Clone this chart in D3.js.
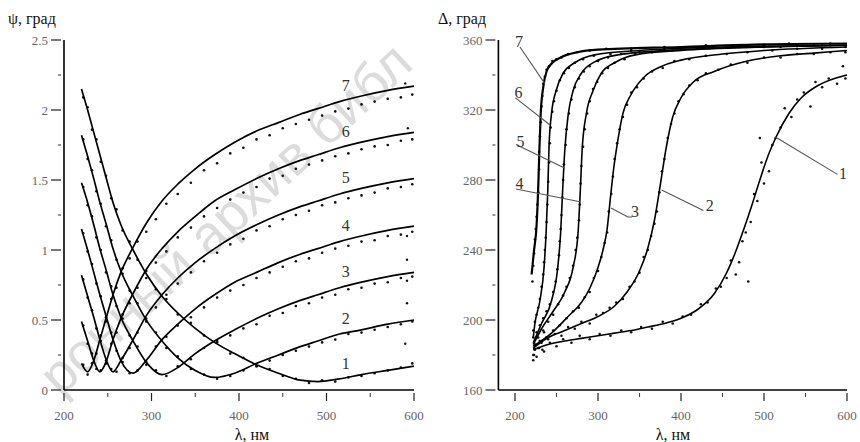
<!DOCTYPE html>
<html><head><meta charset="utf-8">
<script src="https://cdn.jsdelivr.net/npm/d3@7"></script>
<style>body{margin:0;background:#fff}svg{display:block}</style>
</head><body>
<svg id="c" width="860" height="442"></svg>
<script>
// ---------- data: left panel (psi) ----------
const curveNames = ["1","2","3","4","5","6","7"];
const lamL = [220,227,234,241,248,256,265,279,295,312,330,350,372,395,420,445,470,490,515,540,570,600];
const psi1 = [2.15,2.00,1.84,1.68,1.52,1.34,1.18,1.00,0.82,0.67,0.55,0.44,0.34,0.26,0.18,0.12,0.07,0.06,0.08,0.11,0.14,0.17];
const psi2 = [1.82,1.67,1.51,1.34,1.19,1.01,0.85,0.67,0.49,0.35,0.23,0.14,0.09,0.12,0.19,0.25,0.31,0.35,0.40,0.43,0.47,0.50];
const psi3 = [1.48,1.34,1.18,1.01,0.86,0.68,0.52,0.35,0.19,0.11,0.16,0.26,0.35,0.43,0.51,0.58,0.64,0.68,0.73,0.77,0.81,0.84];
const psi4 = [1.15,1.00,0.84,0.68,0.53,0.36,0.21,0.12,0.22,0.36,0.47,0.58,0.68,0.77,0.84,0.91,0.97,1.01,1.06,1.10,1.14,1.17];
const psi5 = [0.82,0.67,0.52,0.36,0.22,0.13,0.21,0.36,0.54,0.68,0.80,0.91,1.01,1.10,1.18,1.25,1.31,1.35,1.40,1.44,1.48,1.51];
const psi6 = [0.49,0.35,0.21,0.13,0.20,0.36,0.51,0.69,0.87,1.01,1.13,1.24,1.35,1.43,1.51,1.58,1.64,1.68,1.73,1.77,1.81,1.84];
const psi7 = [0.19,0.13,0.21,0.36,0.51,0.68,0.84,1.02,1.20,1.35,1.47,1.58,1.68,1.77,1.85,1.91,1.97,2.01,2.06,2.10,2.14,2.17];

// measured points (left)
const lamD = [222,227,232,237,242,248,254,260,267,275,284,294,305,317,330,345,360,375,390,405,420,435,450,465,480,495,510,525,540,555,570,585,598];
const psiD1 = [2.09,2.02,1.86,1.79,1.63,1.53,1.37,1.29,1.14,1.06,0.93,0.85,0.72,0.65,0.54,0.48,0.39,0.34,0.26,0.23,0.17,0.15,0.10,0.08,0.05,0.07,0.06,0.09,0.10,0.12,0.14,0.16,0.19];
const psiD2 = [1.79,1.65,1.57,1.42,1.33,1.17,1.07,0.93,0.83,0.71,0.62,0.49,0.41,0.30,0.24,0.15,0.11,0.08,0.10,0.14,0.17,0.21,0.25,0.28,0.31,0.34,0.36,0.40,0.41,0.43,0.45,0.47,0.49];
const psiD3 = [1.45,1.32,1.24,1.09,1.00,0.84,0.74,0.60,0.51,0.39,0.31,0.18,0.14,0.10,0.17,0.22,0.30,0.35,0.39,0.44,0.47,0.53,0.55,0.60,0.62,0.66,0.68,0.72,0.73,0.76,0.77,0.80,0.81];
const psiD4 = [1.12,0.99,0.90,0.76,0.67,0.52,0.41,0.28,0.20,0.12,0.14,0.20,0.31,0.38,0.46,0.52,0.59,0.66,0.71,0.75,0.80,0.84,0.88,0.92,0.94,0.98,1.01,1.03,1.06,1.07,1.10,1.11,1.13];
const psiD5 = [0.79,0.66,0.57,0.44,0.35,0.21,0.15,0.13,0.23,0.30,0.41,0.51,0.59,0.68,0.76,0.84,0.92,0.98,1.04,1.08,1.14,1.17,1.22,1.25,1.28,1.32,1.34,1.37,1.39,1.41,1.44,1.45,1.47];
const psiD6 = [0.46,0.33,0.26,0.15,0.14,0.19,0.33,0.41,0.54,0.62,0.73,0.80,0.91,0.99,1.09,1.16,1.24,1.30,1.36,1.41,1.45,1.51,1.53,1.58,1.61,1.64,1.67,1.69,1.72,1.74,1.75,1.78,1.79];
const psiD7 = [0.18,0.11,0.19,0.26,0.39,0.49,0.65,0.73,0.87,0.94,1.06,1.13,1.22,1.33,1.40,1.48,1.57,1.62,1.69,1.73,1.79,1.82,1.87,1.90,1.93,1.96,1.99,2.01,2.04,2.06,2.08,2.09,2.11];
const psiOut = [[590,2.19],[593,1.87],[592,1.10],[592,0.93],[592,0.78],[592,0.62],[590,0.33]];

// ---------- data: right panel (Delta) ----------
const delta1 = [[222,183],[240,186],[260,188],[280,189.5],[300,191],[320,192.5],[340,194],[360,196],[380,198],[400,201],[420,206],[440,215],[455,227],[465,238],[475,251],[485,265],[495,280],[505,294],[515,305],[530,318],[545,327],[565,334],[585,338],[600,340]];
const delta2 = [[222,184],[240,190],[260,194],[280,198],[300,202],[320,208],[335,216],[350,228],[360,241],[368,257],[375,277],[382,298],[390,316],[400,327],[415,336],[440,342],[480,348],[520,351],[560,352.5],[600,354]];
const delta3 = [[222,185],[244,192.5],[264,202],[280,210],[290,218],[300,230],[306,240],[311,252],[315,270],[319,287],[323,300],[330,318],[340,329],[356,339],[377,345],[400,348.5],[450,352],[500,354],[600,356]];
const delta4 = [[222,186],[232,195],[246,205],[260,216],[270,230],[276,250],[278.5,272],[281,298],[286,318],[294,331],[304,341],[320,347],[345,351.5],[400,354],[500,356],[600,357]];
const delta5 = [[222,187],[232,198],[244,211],[251.5,230],[255,250],[257,270],[260,297],[264,317],[270,331],[280,341],[296,347.5],[324,351.5],[400,354.5],[500,356],[600,357]];
const delta6 = [[222,190],[224,198],[230,211],[235,230],[237.5,250],[239.5,274],[241,299],[244,318],[249.5,331],[258,341],[272,347],[296,351.5],[350,354],[450,356],[600,357]];
const delta7 = [[220,226],[223,240],[226,254],[228,276],[229.5,299],[231,318],[234,333],[238,342],[245,347],[255,350],[275,353],[300,354.5],[400,356],[500,357.5],[600,358]];

const deltaD1 = [[222,177],[224,186],[226,179],[230,188],[233,183],[238,190],[223,180],[228,184],[235,182],[242,187],[250,185],[258,189],[268,187],[278,191],[290,189],[302,192],[315,191],[328,194],[340,193],[352,196],[365,195],[378,199],[390,198],[402,202],[412,203],[424,209],[432,210],[442,218],[448,219],[455,224],[460,234],[466,226],[470,233],[474,245],[478,250],[481,222],[484,256],[488,272],[492,268],[495,304],[497,290],[500,278],[506,285],[510,300],[514,304],[520,310],[525,321],[533,316],[540,326],[548,330],[556,322],[562,336],[570,333],[578,338],[588,335],[595,345],[598,338]];
const deltaD2 = [[222,180],[226,190],[229,184],[235,193],[224,183],[232,187],[240,189],[248,192],[256,191],[264,196],[272,195],[280,199],[290,198],[298,203],[306,204],[314,207],[322,210],[330,212],[338,219],[344,222],[350,227],[355,236],[360,240],[364,248],[368,255],[371,262],[374,273],[377,285],[380,292],[384,304],[388,312],[392,318],[397,325],[403,329],[410,334],[420,337],[430,341],[445,343],[460,346],[480,347],[500,350],[520,350],[540,352],[560,352],[580,353],[598,353]];
const deltaD3 = [[223,184],[230,188],[238,190],[246,194],[254,197],[262,201],[270,205],[277,207],[284,213],[290,216],[295,224],[300,228],[304,236],[308,244],[311,250],[313,262],[316,272],[318,282],[320,292],[323,301],[326,309],[330,316],[335,323],[340,330],[347,333],[355,338],[365,342],[378,344],[392,348],[410,349],[430,351],[455,352],[480,353],[510,354],[540,355],[570,355],[598,356]];
const deltaD4 = [[223,187],[228,190],[234,194],[240,199],[246,203],[252,209],[258,214],[262,219],[266,224],[270,231],[273,240],[275,247],[277,257],[278,266],[279,278],[280,288],[282,299],[284,309],[287,318],[290,325],[294,332],[299,336],[305,341],[312,344],[320,347],[332,349],[345,352],[365,353],[390,354],[420,355],[460,356],[500,356],[540,357],[580,357]];
const deltaD5 = [[222,190],[226,193],[230,197],[234,201],[238,205],[242,209],[246,216],[249,222],[251,229],[253,237],[254,245],[255,252],[256,260],[257,270],[258,280],[259,289],[261,300],[262,309],[265,318],[268,326],[272,333],[277,338],[283,342],[290,345],[300,348],[312,350],[328,352],[350,353],[380,354],[420,355],[470,356],[520,356],[570,357]];
const deltaD6 = [[222,194],[224,199],[226,203],[228,207],[230,212],[232,219],[234,226],[235,233],[236,240],[237,247],[238,256],[239,266],[240,279],[241,290],[242,301],[243,310],[245,319],[247,325],[250,331],[254,337],[259,341],[265,344],[272,347],[282,349],[295,351],[315,352],[340,354],[380,355],[430,356],[500,357],[560,357]];
const deltaD7 = [[221,222],[222,231],[223,238],[224,246],[225,252],[226,259],[227,266],[228,273],[229,286],[229,296],[230,305],[231,313],[232,322],[233,328],[234,335],[236,339],[238,343],[241,345],[245,348],[250,349],[256,350],[264,352],[275,353],[290,354],[310,355],[340,355],[380,356],[430,357],[480,357],[530,358],[580,358]];

// ticks
const xMajor = [200,300,400,500,600];
const xMinor = [250,350,450,550];
const psiMajor = [0,0.5,1,1.5,2,2.5];
const psiMinor = [0.25,0.75,1.25,1.75,2.25];
const deltaMajor = [160,200,240,280,320,360];
const deltaMinor = [180,220,260,300,340];

// annotations of the right panel (data coordinates)
const rightNotes = [
  {t:"7", at:[204.8,359.4], lead:[[206,356],[236.1,334.9]]},
  {t:"6", at:[204.2,330],   lead:[[200.5,326.9],[242.2,311.4]]},
  {t:"5", at:[206.6,302.3], lead:[[201.2,300.3],[260.2,286.7]]},
  {t:"4", at:[205.4,278],   lead:[[201.2,274.9],[278.3,267.6]]},
  {t:"3", at:[344.5,262.3], lead:[[315.7,264],[336,258.9],[341,258.9]]},
  {t:"2", at:[434.7,265.7], lead:[[376.7,274.3],[427,262.6]]},
  {t:"1", at:[595.2,284],   lead:[[513.2,304.7],[588.5,283.2]]}
];
const leftLabelLam = 522;

// ---------- drawing ----------
const svg = d3.select("#c");
const serif = "'Liberation Serif','Times New Roman',serif";

// faint watermark of the source scan
svg.append("text")
  .attr("transform","translate(238,232) rotate(-43)")
  .attr("text-anchor","middle")
  .attr("font-family","'Liberation Sans',Arial,sans-serif")
  .attr("font-size",54)
  .attr("fill","#dcdcdc")
  .text("ронный архив библ");

const xL = d3.scaleLinear().domain([200,600]).range([64,414]);
const yL = d3.scaleLinear().domain([0,2.5]).range([390,40]);
const xR = d3.scaleLinear().domain([180,600]).range([498.4,847]);
const yR = d3.scaleLinear().domain([160,360]).range([390,40]);

function drawAxes(x, y, xDom, yMaj, yMin, fmt) {
  const g = svg.append("g");
  const ax = x(xDom[0]), ay = y(yMaj[0]);
  g.append("line").attr("x1",ax).attr("x2",ax).attr("y1",y(yMaj[yMaj.length-1])).attr("y2",ay)
    .attr("stroke","#000").attr("stroke-width",1.6);
  g.append("line").attr("x1",ax).attr("x2",x(xDom[1])).attr("y1",ay).attr("y2",ay)
    .attr("stroke","#000").attr("stroke-width",1.4);
  g.selectAll(".ym").data(yMaj).join("line")
    .attr("x1",ax-13).attr("x2",ax-3).attr("y1",d=>y(d)).attr("y2",d=>y(d))
    .attr("stroke","#222").attr("stroke-width",1.2);
  g.selectAll(".yn").data(yMin).join("line").attr("class","yn")
    .attr("x1",ax-6).attr("x2",ax-3).attr("y1",d=>y(d)).attr("y2",d=>y(d))
    .attr("stroke","#444").attr("stroke-width",1.1);
  g.selectAll(".yl").data(yMaj).join("text").attr("class","yl")
    .attr("x",ax-16).attr("y",d=>y(d)).attr("dy","0.35em").attr("text-anchor","end")
    .attr("font-family",serif).attr("font-size",13).attr("fill","#666").text(fmt);
  g.selectAll(".xm").data(xMajor).join("line").attr("class","xm")
    .attr("x1",d=>x(d)).attr("x2",d=>x(d)).attr("y1",ay+3).attr("y2",ay+11)
    .attr("stroke","#222").attr("stroke-width",1.2);
  g.selectAll(".xn").data(xMinor).join("line").attr("class","xn")
    .attr("x1",d=>x(d)).attr("x2",d=>x(d)).attr("y1",ay+3).attr("y2",ay+7)
    .attr("stroke","#444").attr("stroke-width",1.1);
  g.selectAll(".xl").data(xMajor).join("text").attr("class","xl")
    .attr("x",d=>x(d)).attr("y",ay+30).attr("text-anchor","middle")
    .attr("font-family",serif).attr("font-size",13).attr("fill","#666").text(d=>d);
}
drawAxes(xL, yL, [200,600], psiMajor, psiMinor, d=>String(d));
drawAxes(xR, yR, [180,600], deltaMajor, deltaMinor, d=>String(d));

// axis titles
const titles = [
  {t:"ψ, град", x:8, y:24, a:"start"},
  {t:"Δ, град", x:438, y:24, a:"start"},
  {t:"λ, нм", x:252, y:440, a:"middle"},
  {t:"λ, нм", x:673, y:440, a:"middle"}
];
svg.selectAll(".tt").data(titles).join("text").attr("class","tt")
  .attr("x",d=>d.x).attr("y",d=>d.y).attr("text-anchor",d=>d.a)
  .attr("font-family",serif).attr("font-size",16).attr("fill","#111").text(d=>d.t);

// left panel curves and points
const psiLines = [psi1,psi2,psi3,psi4,psi5,psi6,psi7];
const psiDots = [psiD1,psiD2,psiD3,psiD4,psiD5,psiD6,psiD7];
const lineL = d3.line().x(d=>xL(d[0])).y(d=>yL(d[1])).curve(d3.curveMonotoneX);
const gL = svg.append("g");
psiDots.forEach(arr => {
  gL.selectAll(null).data(arr.map((v,i)=>[lamD[i],v])).join("circle")
    .attr("cx",d=>xL(d[0])).attr("cy",d=>yL(d[1])).attr("r",1.3).attr("fill","#111");
});
gL.selectAll(null).data(psiOut).join("circle")
  .attr("cx",d=>xL(d[0])).attr("cy",d=>yL(d[1])).attr("r",1.2).attr("fill","#111");
psiLines.forEach(arr => {
  gL.append("path").datum(arr.map((v,i)=>[lamL[i],v])).attr("d",lineL)
    .attr("fill","none").attr("stroke","#000").attr("stroke-width",1.7);
});
// left labels just above each curve
psiLines.forEach((arr,k) => {
  const i = d3.bisectLeft(lamL, leftLabelLam);
  const t = (leftLabelLam - lamL[i-1])/(lamL[i]-lamL[i-1]);
  const v = arr[i-1] + t*(arr[i]-arr[i-1]);
  gL.append("text").attr("x",xL(leftLabelLam)).attr("y",yL(v)-9).attr("text-anchor","middle")
    .attr("font-family",serif).attr("font-size",16).attr("fill","#333").text(curveNames[k]);
});

// right panel curves and points
const deltaLines = [delta1,delta2,delta3,delta4,delta5,delta6,delta7];
const deltaDots = [deltaD1,deltaD2,deltaD3,deltaD4,deltaD5,deltaD6,deltaD7];
const lineR = d3.line().x(d=>xR(d[0])).y(d=>yR(d[1])).curve(d3.curveMonotoneX);
const gR = svg.append("g");
deltaDots.forEach(arr => {
  gR.selectAll(null).data(arr).join("circle")
    .attr("cx",d=>xR(d[0])).attr("cy",d=>yR(d[1])).attr("r",1.3).attr("fill","#111");
});
deltaLines.forEach((arr,k) => {
  gR.append("path").datum(arr).attr("d",lineR)
    .attr("fill","none").attr("stroke","#000").attr("stroke-width",k===6?2.2:1.6);
});
const leadLine = d3.line().x(d=>xR(d[0])).y(d=>yR(d[1]));
rightNotes.forEach(n => {
  gR.append("path").attr("d",leadLine(n.lead)).attr("fill","none")
    .attr("stroke","#555").attr("stroke-width",1.1);
  gR.append("text").attr("x",xR(n.at[0])).attr("y",yR(n.at[1])).attr("dy","0.35em")
    .attr("text-anchor","middle").attr("font-family",serif).attr("font-size",16)
    .attr("fill","#333").text(n.t);
});
</script>
</body></html>
